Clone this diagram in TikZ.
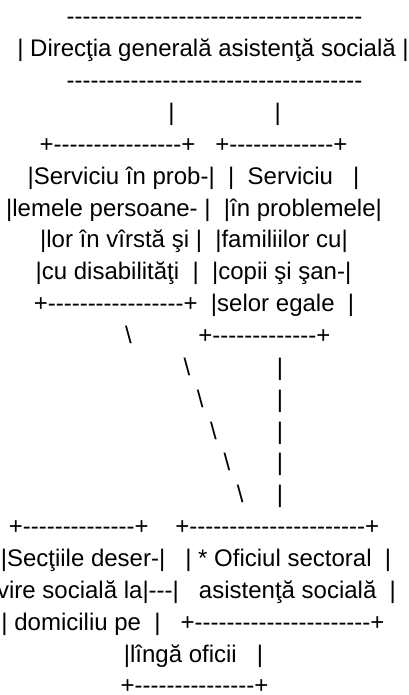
\documentclass[tikz,border=0pt]{standalone}
\usepackage{fontspec}
\setmainfont{Liberation Sans}[Ligatures={TeXOff,CommonOff}]
\ExplSyntaxOn
\NewDocumentCommand\rpt{mm}{\prg_replicate:nn{#1}{#2}}
\ExplSyntaxOff

\begin{document}
\begin{tikzpicture}[x=0.75pt,y=0.75pt,yscale=-1,xscale=1,
  asc/.style={anchor=base,inner sep=0pt,outer sep=0pt,font=\fontsize{18}{21}\selectfont},
  ascr/.style={asc,anchor=base east}]
%set diagram left start at 0, and has height of 695
\useasboundingbox (0,0) rectangle (409,695);

% Text Node
\node[asc] (topbar) at (214.5,25) {\rpt{37}{-}};
% Text Node
\node[asc] (dgas) at (213,56.85) {|~Direcţia generală asistenţă socială~|};
% Text Node
\node[asc] (botbar) at (214.5,88.7) {\rpt{37}{-}};
% Text Node
\node[asc] (links) at (224.5,120.55) {|\rpt{15}{~}|};
% Text Node
\node[asc] (srvtop) at (193.5,152.4) {+\rpt{16}{-}+\rpt{3}{~}+\rpt{13}{-}+};
% Text Node
\node[asc] (srva) at (193.5,184.25) {|Serviciu în prob-|~~|~~Serviciu~~~|};
% Text Node
\node[asc] (srvb) at (194,216.1) {|lemele persoane-~|~~|în problemele|};
% Text Node
\node[asc] (srvc) at (194,247.95) {|lor în vîrstă şi~|~~|familiilor cu|};
% Text Node
\node[asc] (srvd) at (193.5,279.8) {|cu disabilităţi~~|~~|copii şi şan-|};
% Text Node
\node[asc] (srve) at (194,311.65) {+\rpt{17}{-}+~~|selor egale~~|};
% Text Node
\node[ascr] (srvbot) at (330.3,343.5) {\textbackslash\rpt{10}{~}+\rpt{13}{-}+};
% Text Node
\node[ascr] (diaga) at (283.1,375.35) {\textbackslash\rpt{13}{~}|};
% Text Node
\node[ascr] (diagb) at (283.1,407.2) {\textbackslash\rpt{11}{~}|};
% Text Node
\node[ascr] (diagc) at (283.1,439.05) {\textbackslash\rpt{9}{~}|};
% Text Node
\node[ascr] (diagd) at (283.1,470.9) {\textbackslash\rpt{7}{~}|};
% Text Node
\node[ascr] (diage) at (283.1,502.75) {\textbackslash\rpt{5}{~}|};
% Text Node
\node[asc] (offtop) at (194,534.6) {+\rpt{14}{-}+\rpt{4}{~}+\rpt{22}{-}+};
% Text Node
\node[asc] (offa) at (196,566.45) {|Secţiile deser-|~~~|~*~Oficiul sectoral~~|};
% Text Node
\node[ascr] (offb) at (396,598.3) {|vire socială la|---|~~~asistenţă socială~~|};
% Text Node
\node[asc] (offc) at (193,630.15) {|~domiciliu pe~~|~~~+\rpt{22}{-}+};
% Text Node
\node[asc] (offd) at (193.5,662) {|lîngă oficii~~~|};
% Text Node
\node[asc] (offbot) at (194.5,693.85) {+\rpt{15}{-}+};

\end{tikzpicture}
\end{document}
